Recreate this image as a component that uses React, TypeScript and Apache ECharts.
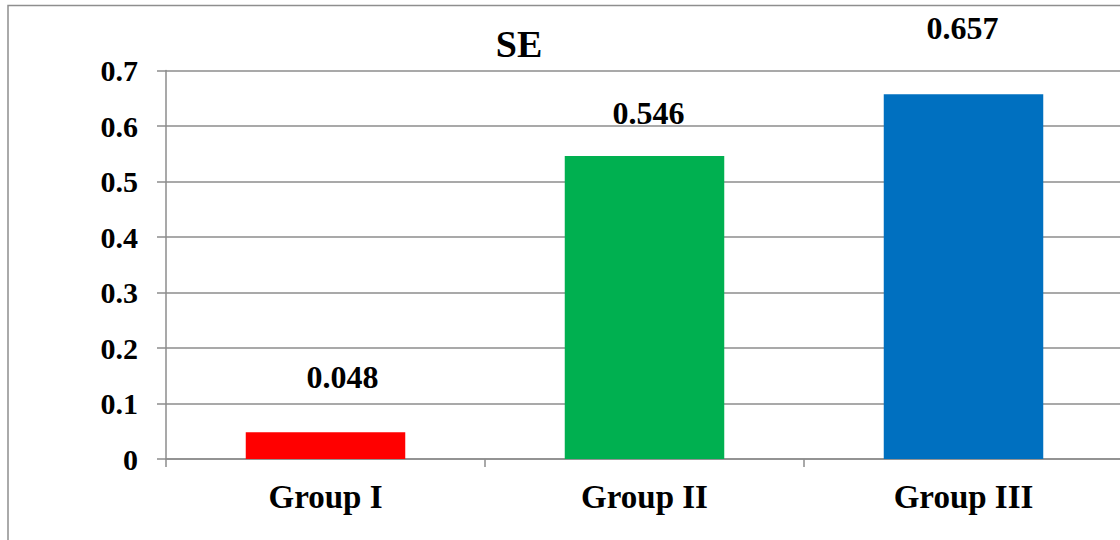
import React, { useEffect, useRef } from "react";
import * as echarts from "echarts";

const categories = ["Group I", "Group II", "Group III"];
const values = [0.048, 0.546, 0.657];
const barColors = ["#FF0000", "#00B050", "#0070C0"];
const labelOffsets: [number, number][] = [
  [17, -39],
  [4, -27],
  [-1, -50],
];
const yTicks = { min: 0, max: 0.7, interval: 0.1 };
const titleText = "SE";

const FONT = "Liberation Serif";
const GRID = "#8c8c8c";

export default function App() {
  const ref = useRef<HTMLDivElement>(null);
  useEffect(() => {
    if (!ref.current) return;
    const chart = echarts.init(ref.current, undefined, { renderer: "svg" });
    chart.setOption({
      animation: false,
      backgroundColor: "#ffffff",
      grid: { left: 166, right: 7, top: 70.5, bottom: 81, containLabel: false },
      graphic: [
        {
          type: "rect",
          shape: { x: 8, y: 5.5, width: 1300, height: 700 },
          style: { fill: "none", stroke: "#8e8e8e", lineWidth: 1.5 },
          z: 0,
          silent: true,
        },
        {
          type: "text",
          x: 519,
          y: 44,
          style: {
            text: titleText,
            fontFamily: FONT,
            fontWeight: "bold",
            fontSize: 38,
            fill: "#000",
            textAlign: "center",
            textVerticalAlign: "middle",
          },
        },
      ],
      xAxis: {
        type: "category",
        data: categories,
        boundaryGap: true,
        axisLine: { show: true, lineStyle: { color: GRID, width: 1.5 } },
        axisTick: { show: true, length: 8, lineStyle: { color: GRID, width: 1.5 } },
        axisLabel: {
          color: "#000",
          fontFamily: FONT,
          fontWeight: "bold",
          fontSize: 33,
          lineHeight: 33,
          margin: 21,
        },
      },
      yAxis: {
        type: "value",
        min: yTicks.min,
        max: yTicks.max,
        interval: yTicks.interval,
        axisLine: { show: true, lineStyle: { color: GRID, width: 1.5 } },
        axisTick: { show: true, length: 9, lineStyle: { color: GRID, width: 1.5 } },
        splitLine: { show: true, lineStyle: { color: GRID, width: 1.5 } },
        axisLabel: {
          color: "#000",
          fontFamily: FONT,
          fontWeight: "bold",
          fontSize: 30,
          margin: 28,
          formatter: (v: number) => String(+v.toFixed(1)),
        },
      },
      series: [
        {
          type: "bar",
          barWidth: "50%",
          data: values.map((v, i) => ({
            value: v,
            itemStyle: { color: barColors[i] },
            label: { offset: labelOffsets[i] },
          })),
          label: {
            show: true,
            position: "top",
            distance: 0,
            color: "#000",
            fontFamily: FONT,
            fontWeight: "bold",
            fontSize: 32,
            lineHeight: 32,
            formatter: (p: any) => String(p.value),
          },
        },
      ],
    });
    return () => chart.dispose();
  }, []);
  return (
    <div
      style={{
        position: "absolute",
        left: 0,
        top: 0,
        width: 1120,
        height: 540,
        overflow: "hidden",
      }}
    >
      <div ref={ref} style={{ width: 1130, height: 540 }} />
    </div>
  );
}
